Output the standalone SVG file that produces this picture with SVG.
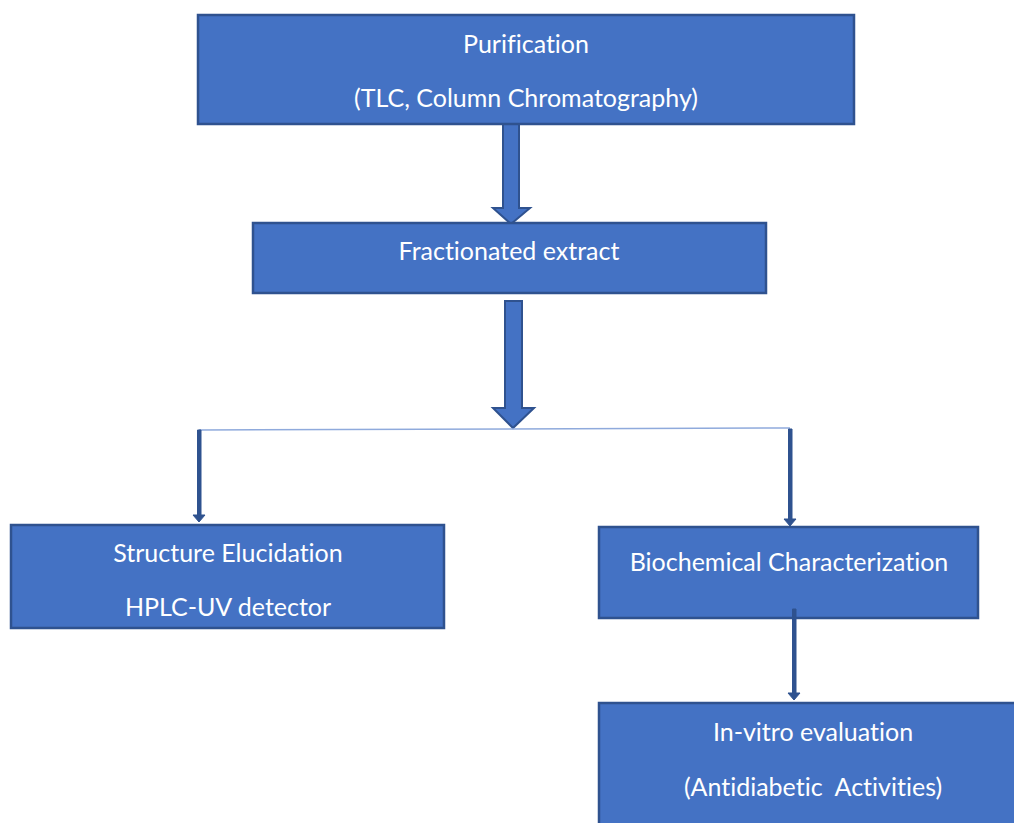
<svg xmlns="http://www.w3.org/2000/svg" width="1014" height="823" viewBox="0 0 1014 823">
<style>
.box{fill:#4472C4;stroke:#2F528F;stroke-width:2.5}
.t{font-family:Lato,"Liberation Sans",sans-serif;font-size:25px;fill:#fff;text-anchor:middle;font-variant-ligatures:none}
.blk{fill:#4472C4;stroke:#2F528F;stroke-width:2}
.thin{fill:#2F528F;stroke:#2F528F;stroke-width:1}
</style>
<rect width="1014" height="823" fill="#fff"/>
<g id="connectors">
<polygon class="blk" points="503,124 519,124 519,208 530,208 511,224 493,208 503,208"/>
<polygon class="blk" points="505,301 522,301 522,408 534,408 513,428 493,408 505,408"/>
<line x1="199" y1="430" x2="790" y2="428" stroke="#8FAADC" stroke-width="1.5"/>
<polygon class="thin" points="197.5,430 201,430 201,515 205,515 199,522 193,515 197.5,515"/>
<polygon class="thin" points="788.5,429 792,429 792,519 796,519 790,526 784,519 788.5,519"/>
<polygon class="thin" points="792.5,609 796,609 796,693 800,693 794,700 788,693 792.5,693"/>
</g>
<g id="n1"><rect class="box" x="198" y="15" width="656" height="109"/>
<text class="t" x="526" y="53">Purification</text>
<text class="t" x="526" y="107">(TLC, Column Chromatography)</text></g>
<g id="n2"><rect class="box" x="253" y="223" width="513" height="70"/>
<text class="t" x="509" y="260">Fractionated extract</text></g>
<g id="n3"><rect class="box" x="11" y="525" width="433" height="103"/>
<text class="t" x="228" y="562">Structure Elucidation</text>
<text class="t" x="228" y="616">HPLC-UV detector</text></g>
<g id="n4"><rect class="box" x="599" y="527" width="379" height="91"/>
<text class="t" x="789" y="571">Biochemical Characterization</text></g>
<polygon class="thin" points="792.5,609 796,609 796,618 792.5,618"/>
<g id="n5"><rect class="box" x="599" y="703" width="420" height="125"/>
<text class="t" x="813" y="741">In-vitro evaluation</text>
<text class="t" x="813" y="796" xml:space="preserve">(Antidiabetic  Activities)</text></g>
</svg>
